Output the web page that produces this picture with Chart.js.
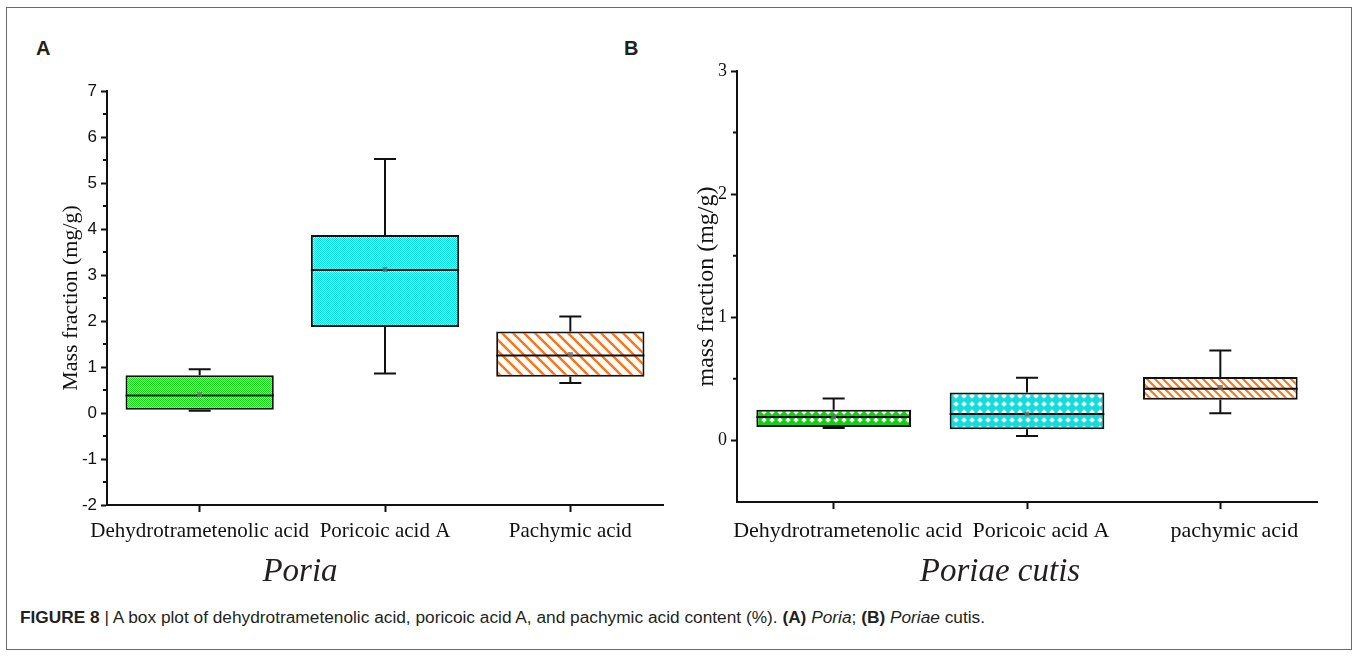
<!DOCTYPE html>
<html><head><meta charset="utf-8">
<script src="https://cdn.jsdelivr.net/npm/chart.js@4.4.0/dist/chart.umd.min.js"></script>
<style>
html,body{margin:0;padding:0;background:#fff;}
body{width:1358px;height:656px;position:relative;overflow:hidden;font-family:'Liberation Sans',Arial,sans-serif;color:#231f20;}
#frame{position:absolute;left:6px;top:7px;width:1346px;height:643px;border:1.5px solid #6b6b6b;box-sizing:border-box;}
.plabel{position:absolute;font-weight:bold;font-size:20px;line-height:1;}
.species{position:absolute;font-family:'Liberation Serif','Times New Roman',serif;font-style:italic;font-size:33px;line-height:1;transform:translateX(-50%);white-space:nowrap;}
#cap{position:absolute;left:20px;top:607px;font-size:17.3px;line-height:1.2;white-space:nowrap;}
canvas{position:absolute;}
</style>
</head>
<body>
<div id="frame"></div>
<div class="plabel" style="left:36px;top:38px;">A</div>
<div class="plabel" style="left:624px;top:38px;">B</div>
<canvas id="cA" width="660" height="500" style="left:20px;top:60px;"></canvas>
<canvas id="cB" width="670" height="520" style="left:680px;top:40px;"></canvas>
<div class="species" style="left:300px;top:554px;">Poria</div>
<div class="species" style="left:1000px;top:554px;">Poriae cutis</div>
<div id="cap"><b>FIGURE 8</b> | A box plot of dehydrotrametenolic acid, poricoic acid A, and pachymic acid content (%). <b>(A)</b> <i>Poria</i>; <b>(B)</b> <i>Poriae</i> cutis.</div>
<script>
// ---------- data ----------
const categoriesA = ['Dehydrotrametenolic acid', 'Poricoic acid A', 'Pachymic acid'];
const minA  = [0.05, 0.86, 0.65];
const q1A   = [0.07, 1.87, 0.79];
const medA  = [0.38, 3.11, 1.25];
const q3A   = [0.82, 3.87, 1.77];
const maxA  = [0.95, 5.52, 2.10];
const meanA = [0.40, 3.12, 1.27];
const yTicksA = [-2, -1, 0, 1, 2, 3, 4, 5, 6, 7];

const categoriesB = ['Dehydrotrametenolic acid', 'Poricoic acid A', 'pachymic acid'];
const minB  = [0.10, 0.035, 0.22];
const q1B   = [0.11, 0.09, 0.33];
const medB  = [0.19, 0.215, 0.42];
const q3B   = [0.25, 0.39, 0.515];
const maxB  = [0.34, 0.51, 0.73];
const meanB = [0.19, 0.215, 0.43];
const yTicksB = [0, 1, 2, 3];

// ---------- patterns ----------
function tile(w, h, draw) {
  const c = document.createElement('canvas'); c.width = w; c.height = h;
  const g = c.getContext('2d'); draw(g, w, h);
  return g.createPattern(c, 'repeat');
}
function dither(dark, light) {
  return tile(2, 2, (g) => {
    g.fillStyle = dark; g.fillRect(0, 0, 2, 2);
    g.fillStyle = light; g.fillRect(1, 0, 1, 1); g.fillRect(0, 1, 1, 1);
  });
}
function hatch(color, s, lw) {
  return tile(s, s, (g, w, h) => {
    g.fillStyle = '#fff'; g.fillRect(0, 0, w, h);
    g.strokeStyle = color; g.lineWidth = lw;
    g.beginPath();
    g.moveTo(-2, -2); g.lineTo(w + 2, h + 2);
    g.moveTo(-2 - w, -2); g.lineTo(2, h + 2);
    g.moveTo(w - 2, -2); g.lineTo(2 * w + 2, h + 2);
    g.stroke();
  });
}
function diamonds(color, s) {
  return tile(s, s, (g, w, h) => {
    g.fillStyle = color; g.fillRect(0, 0, w, h);
    g.fillStyle = '#fff';
    const r = s / 2 - 1.2;
    g.beginPath();
    g.moveTo(w / 2, h / 2 - r); g.lineTo(w / 2 + r, h / 2); g.lineTo(w / 2, h / 2 + r); g.lineTo(w / 2 - r, h / 2);
    g.closePath(); g.fill();
  });
}

// ---------- plugins ----------
const boxExtras = {
  id: 'boxExtras',
  afterDatasetsDraw(chart, args, o) {
    const { ctx } = chart; const xs = chart.scales.x, ys = chart.scales.y;
    const meta = chart.getDatasetMeta(0);
    ctx.save();
    ctx.strokeStyle = '#111'; ctx.lineWidth = 2;
    o.med.forEach((m, i) => {
      const bar = meta.data[i];
      const cx = xs.getPixelForValue(i);
      const half = bar.width / 2;
      const cap = o.cap / 2;
      const yMin = ys.getPixelForValue(o.min[i]), yMax = ys.getPixelForValue(o.max[i]);
      const yQ1 = ys.getPixelForValue(o.q1[i]), yQ3 = ys.getPixelForValue(o.q3[i]);
      const yMed = ys.getPixelForValue(m);
      ctx.beginPath();
      ctx.moveTo(cx, yQ3); ctx.lineTo(cx, yMax);
      ctx.moveTo(cx - cap, yMax); ctx.lineTo(cx + cap, yMax);
      ctx.moveTo(cx, yQ1); ctx.lineTo(cx, yMin);
      ctx.moveTo(cx - cap, yMin); ctx.lineTo(cx + cap, yMin);
      ctx.moveTo(cx - half, yMed); ctx.lineTo(cx + half, yMed);
      ctx.stroke();
      const yMean = ys.getPixelForValue(o.mean[i]);
      ctx.fillStyle = 'rgba(110,110,110,0.8)';
      ctx.fillRect(cx - 2.5, yMean - 2.5, 5, 5);
    });
    ctx.restore();
  },
  afterDraw(chart) {
    const { ctx } = chart; const ys = chart.scales.y;
    const t = ys.ticks.map(k => k.value);
    const xAxis = chart.chartArea.left;
    ctx.save(); ctx.strokeStyle = '#111'; ctx.lineWidth = 2;
    ctx.beginPath();
    for (let i = 0; i < t.length - 1; i++) {
      const py = ys.getPixelForValue((t[i] + t[i + 1]) / 2);
      ctx.moveTo(xAxis - 4, py); ctx.lineTo(xAxis, py);
    }
    ctx.stroke(); ctx.restore();
  }
};

function makeChart(id, cfg) {
  const axisColor = '#111';
  return new Chart(document.getElementById(id), {
    type: 'bar',
    data: {
      labels: cfg.labels,
      datasets: [{
        data: cfg.q1.map((v, i) => [v, cfg.q3[i]]),
        backgroundColor: cfg.fills,
        borderColor: '#111', borderWidth: 2, borderSkipped: false,
        barPercentage: 0.8, categoryPercentage: 1
      }]
    },
    options: {
      responsive: false, animation: false, events: [],
      layout: { padding: cfg.padding },
      plugins: {
        legend: { display: false }, tooltip: { enabled: false },
        boxExtras: { min: cfg.min, q1: cfg.q1, med: cfg.med, q3: cfg.q3, max: cfg.max, mean: cfg.mean, cap: 22 }
      },
      scales: {
        x: {
          offset: true,
          grid: { offset: false, drawOnChartArea: false, tickLength: 7, tickColor: axisColor, tickWidth: 2, color: axisColor },
          border: { color: axisColor, width: 2 },
          ticks: { font: { family: "'Liberation Serif','Times New Roman',serif", size: cfg.catSize }, color: '#111', padding: cfg.catPad, maxRotation: 0, minRotation: 0, autoSkip: false, labelOffset: cfg.labelOffset },
          afterFit(s) { s.height = cfg.xh; }
        },
        y: {
          min: cfg.ymin, max: cfg.ymax,
          afterBuildTicks(s) { s.ticks = cfg.yTicks.map(v => ({ value: v })); },
          grid: { drawOnChartArea: false, tickLength: 6, tickColor: axisColor, tickWidth: 2, color: axisColor },
          border: { color: axisColor, width: 2 },
          ticks: { font: cfg.yFont, color: '#111', padding: 4 },
          title: { display: true, text: cfg.yTitle, color: '#111', font: { family: "'Liberation Serif','Times New Roman',serif", size: cfg.titleSize }, padding: { top: cfg.titlePad, bottom: 0 } },
          afterFit(s) { s.width = cfg.yw; }
        }
      }
    },
    plugins: [boxExtras]
  });
}

makeChart('cA', {
  labels: categoriesA, min: minA, q1: q1A, med: medA, q3: q3A, max: maxA, mean: meanA,
  fills: [dither('#10d810', '#a6f7a6'), dither('#00e2e2', '#b8ffff'), hatch('#ff7410', 11, 2.4)],
  padding: { top: 31, right: 17, left: 0, bottom: 0 }, xh: 55, yw: 87,
  ymin: -2, ymax: 7, yTicks: yTicksA,
  yFont: { family: "'Liberation Sans',Arial,sans-serif", size: 17 },
  yTitle: 'Mass fraction (mg/g)', titleSize: 22, titlePad: 38,
  catSize: 21, catPad: 7, labelOffset: 0
});

makeChart('cB', {
  labels: categoriesB, min: minB, q1: q1B, med: medB, q3: q3B, max: maxB, mean: meanB,
  fills: [diamonds('#10d010', 8), diamonds('#10dede', 8), hatch('#ff7a10', 8, 2.2)],
  padding: { top: 31, right: 33, left: 0, bottom: 0 }, xh: 58, yw: 57,
  ymin: -0.5, ymax: 3, yTicks: yTicksB,
  yFont: { family: "'Liberation Serif','Times New Roman',serif", size: 18 },
  yTitle: 'mass fraction (mg/g)', titleSize: 24, titlePad: 12,
  catSize: 22, catPad: 9, labelOffset: 14
});
</script>
</body></html>
